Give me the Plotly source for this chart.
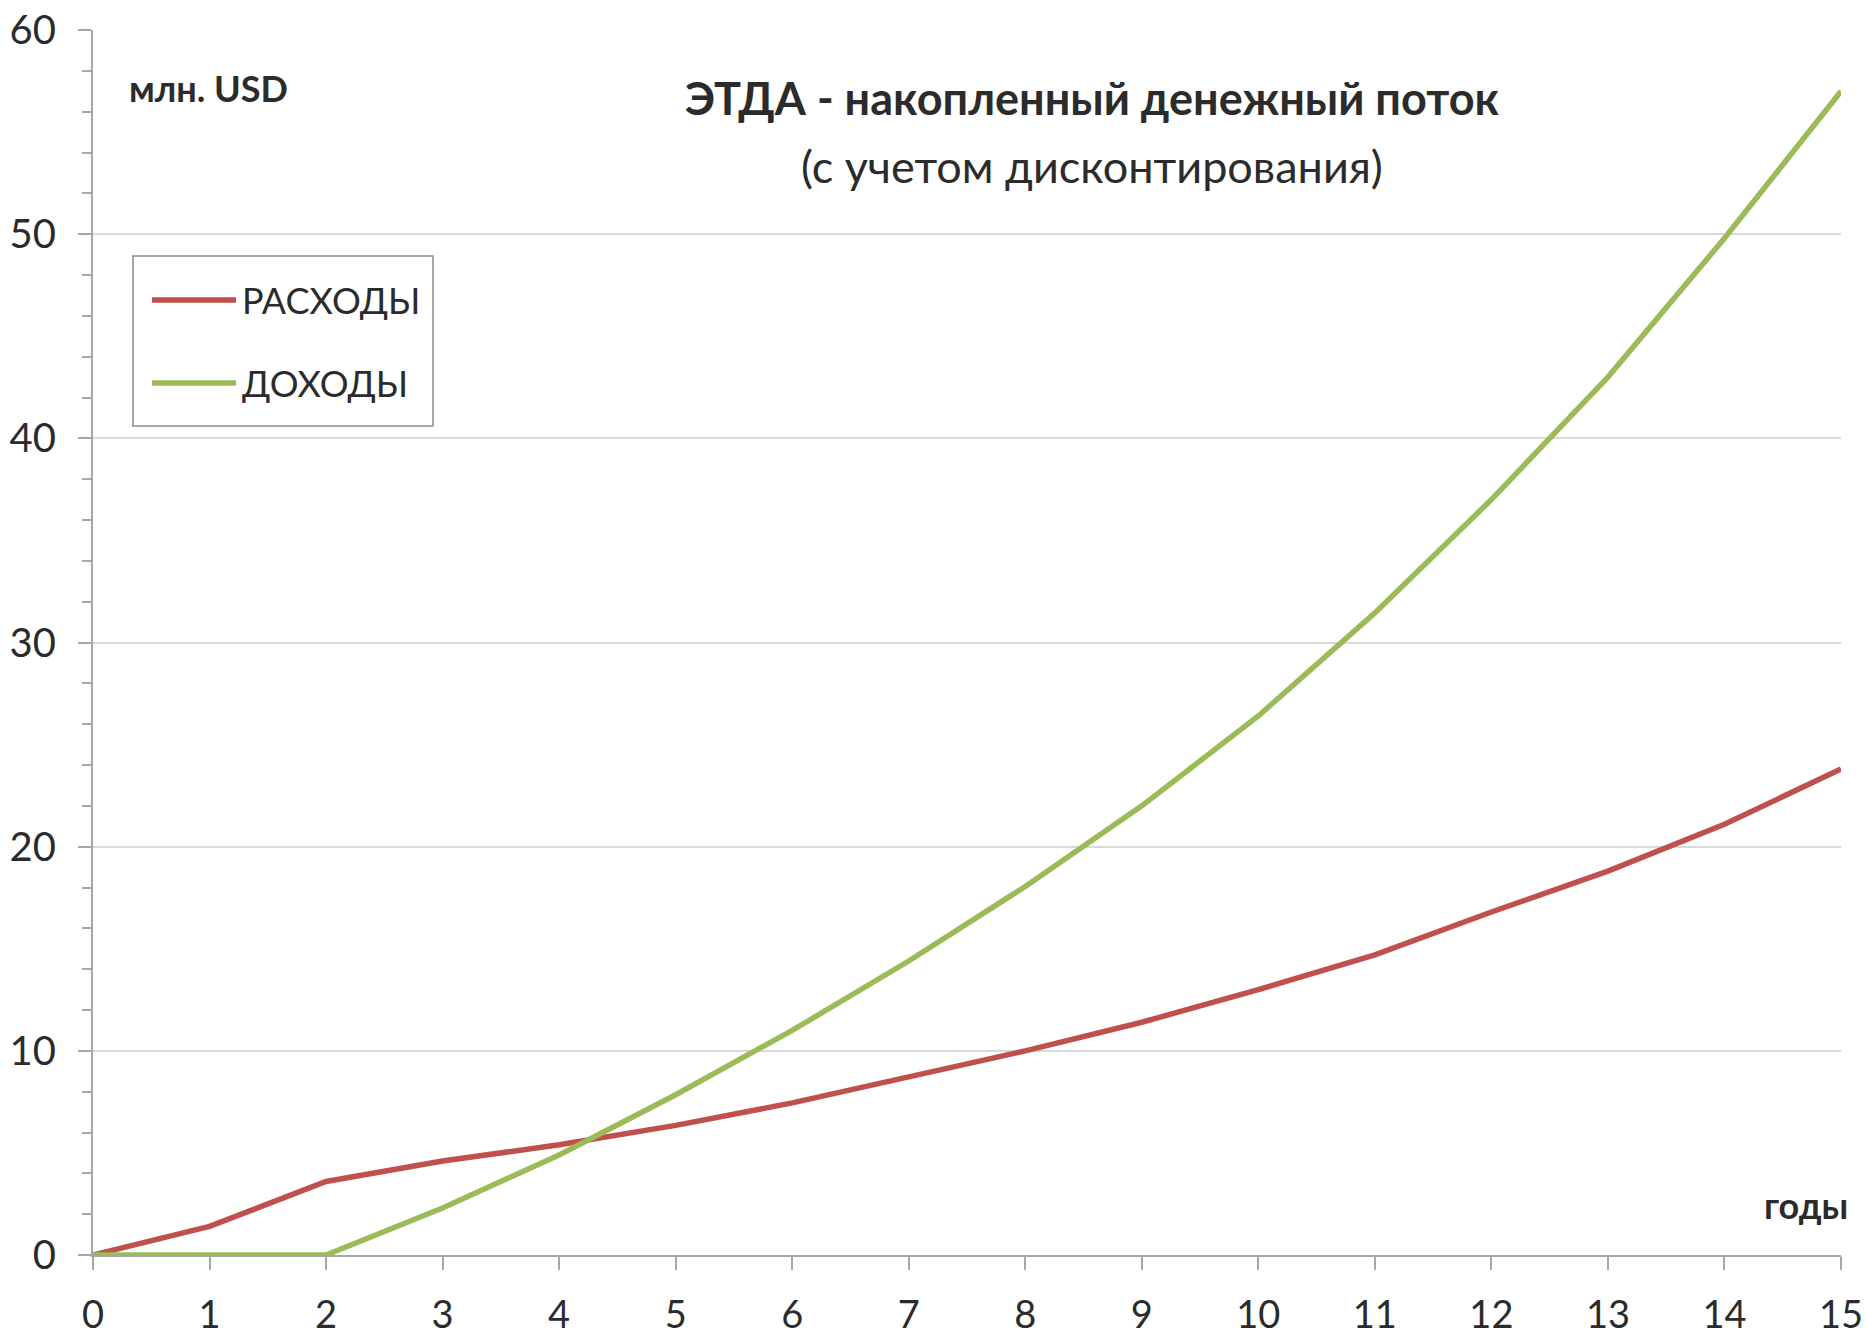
import plotly.graph_objects as go

# Накопленный денежный поток, млн. USD (с учетом дисконтирования)
years = list(range(0, 16))
expenses = [0, 1.4, 3.6, 4.6, 5.4, 6.35, 7.45, 8.7, 10.0, 11.4, 13.0, 14.7, 16.8, 18.8, 21.1, 23.8]
income = [0, 0, 0, 2.3, 4.9, 7.85, 11.0, 14.4, 18.05, 22.0, 26.4, 31.45, 37.0, 43.0, 49.8, 57.0]

series_names = ["РАСХОДЫ", "ДОХОДЫ"]
series_colors = ["#C0504D", "#9BBB59"]

W, H = 1866, 1340
M_L, M_R, M_T, M_B = 93, 25, 30, 85
PW, PH = W - M_L - M_R, H - M_T - M_B

FONT = "Lato, 'Open Sans', sans-serif"
TEXT = "#2b2b2b"


def px_x(px):
    return (px - M_L) / PW


def px_y(py):
    return (H - M_B - py) / PH


fig = go.Figure()
for name, vals, col in zip(series_names, [expenses, income], series_colors):
    fig.add_trace(go.Scatter(
        x=years, y=vals, name=name, mode="lines",
        line=dict(color=col, width=5.5),
        showlegend=False, cliponaxis=False,
    ))

# legend box drawn as shapes + text
shapes = [dict(type="rect", xref="paper", yref="paper",
               x0=px_x(133), x1=px_x(433), y0=px_y(426), y1=px_y(256),
               line=dict(color="#8c8c8c", width=1.5), fillcolor="white", layer="below")]
annotations = []
for i, (name, col) in enumerate(zip(series_names, series_colors)):
    yy = px_y(300 + i * 83)
    shapes.append(dict(type="line", xref="paper", yref="paper",
                       x0=px_x(152), x1=px_x(236), y0=yy, y1=yy,
                       line=dict(color=col, width=5.5)))
    annotations.append(dict(xref="paper", yref="paper", x=px_x(240), y=yy,
                            text=name, showarrow=False, xanchor="left", yanchor="middle",
                            font=dict(family=FONT, size=36, color=TEXT)))

annotations += [
    dict(xref="paper", yref="paper", x=px_x(1092), y=px_y(98),
         text="<b>ЭТДА - накопленный денежный поток</b>", showarrow=False,
         xanchor="center", yanchor="middle", font=dict(family=FONT, size=45, color=TEXT)),
    dict(xref="paper", yref="paper", x=px_x(1092), y=px_y(166),
         text="(с учетом дисконтирования)", showarrow=False,
         xanchor="center", yanchor="middle", font=dict(family=FONT, size=45, color=TEXT)),
    dict(xref="paper", yref="paper", x=px_x(127), y=px_y(88),
         text="<b>млн. USD</b>", showarrow=False,
         xanchor="left", yanchor="middle", font=dict(family=FONT, size=36, color=TEXT)),
    dict(xref="paper", yref="paper", x=px_x(1850), y=px_y(1205),
         text="<b>годы</b>", showarrow=False,
         xanchor="right", yanchor="middle", font=dict(family=FONT, size=36, color=TEXT)),
]

fig.update_layout(
    width=W, height=H,
    margin=dict(l=M_L, r=M_R, t=M_T, b=M_B, autoexpand=False),
    paper_bgcolor="white", plot_bgcolor="white",
    shapes=shapes, annotations=annotations,
    showlegend=False,
    font=dict(family=FONT, color=TEXT),
)
fig.update_xaxes(
    range=[0, 15], tickmode="linear", tick0=0, dtick=1,
    showgrid=False, zeroline=False, automargin=False, ticklabeloverflow="allow",
    showline=True, linecolor="#a6a6a6", linewidth=2,
    ticks="outside", ticklen=13, tickcolor="#a6a6a6", tickwidth=1.5,
    tickfont=dict(family=FONT, size=38, color=TEXT), ticklabelstandoff=12,
)
fig.update_yaxes(
    range=[0, 60], tickmode="linear", tick0=0, dtick=10,
    showgrid=True, gridcolor="#d9d9d9", gridwidth=2, zeroline=False,
    automargin=False, ticklabeloverflow="allow",
    showline=True, linecolor="#a6a6a6", linewidth=2,
    ticks="outside", ticklen=13, tickcolor="#a6a6a6", tickwidth=1.5,
    minor=dict(dtick=2, ticks="outside", ticklen=9, tickcolor="#a6a6a6", tickwidth=1.5, showgrid=False),
    tickfont=dict(family=FONT, size=40, color=TEXT), ticklabelstandoff=14,
)

fig.write_html("out.html")
